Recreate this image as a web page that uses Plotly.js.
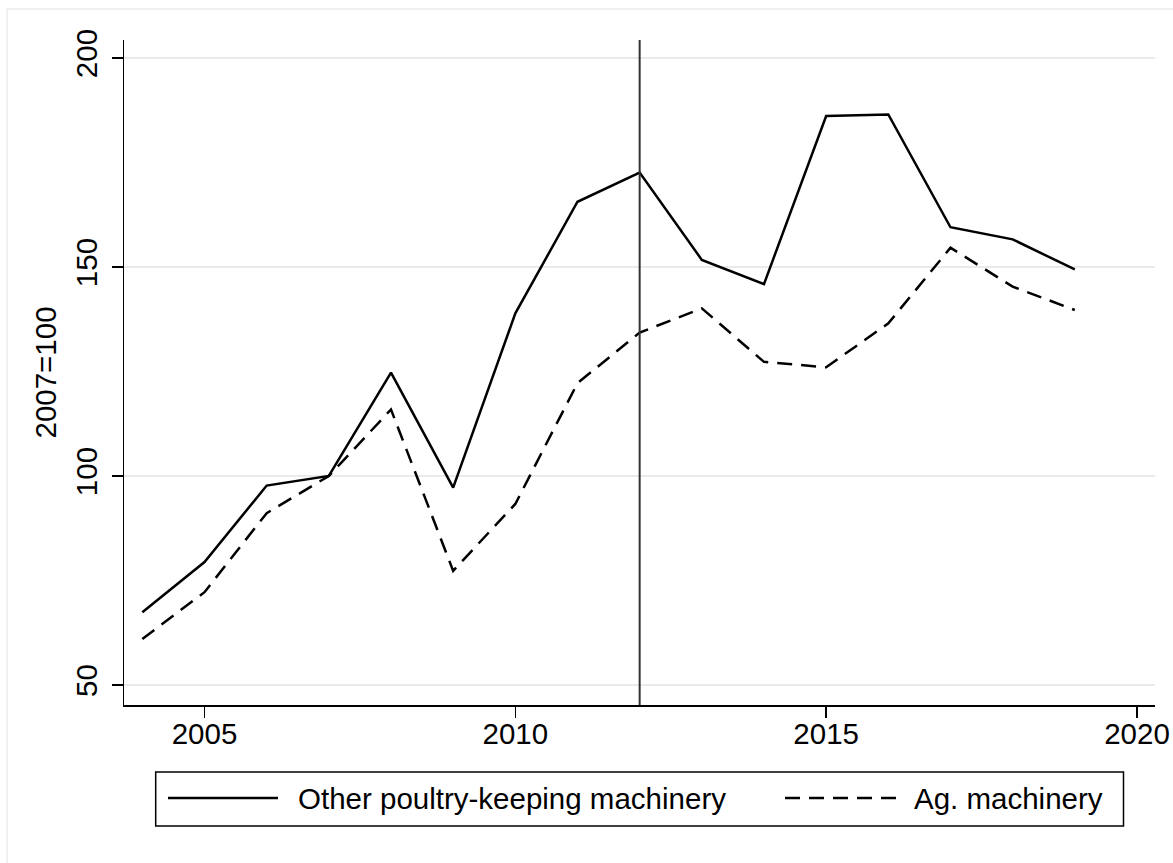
<!DOCTYPE html>
<html>
<head>
<meta charset="utf-8">
<script src="https://cdn.plot.ly/plotly-3.0.1.min.js"></script>
<style>
  html, body { margin: 0; padding: 0; background: #ffffff; }
  #chart { width: 1173px; height: 863px; }
</style>
</head>
<body>
<div id="chart"></div>
<script>
// ---- data ----
const years = [2004, 2005, 2006, 2007, 2008, 2009, 2010, 2011, 2012, 2013, 2014, 2015, 2016, 2017, 2018, 2019];
const poultryMachinery = [67.4, 79.4, 97.7, 100, 124.7, 97.2, 138.9, 165.6, 172.6, 151.7, 145.9, 186.1, 186.5, 159.5, 156.6, 149.4];
const agMachinery = [61.0, 72.2, 91.1, 100, 115.9, 77.3, 93.3, 122.2, 134.3, 140.1, 127.3, 126.0, 136.5, 154.6, 145.3, 139.7];
const seriesNames = ["Other poultry-keeping machinery", "Ag. machinery"];
const xTickVals = [2005, 2010, 2015, 2020];
const yTickVals = [50, 100, 150, 200];
const yAxisTitle = "2007=100";
const markerYear = 2012;

// ---- layout helpers ----
const W = 1173, H = 863;
const M = { l: 124, r: 18, t: 40, b: 158 };
const PW = W - M.l - M.r, PH = H - M.t - M.b;
const px = v => (v - M.l) / PW;      // pixel x -> paper x
const py = v => (H - M.b - v) / PH;  // pixel y -> paper y

const FONT = "Liberation Sans, Arial, sans-serif";
const FS = 29.5;
const dashPattern = "15px,9px";
const LW = 2.5;

const traces = [
  {
    x: years, y: poultryMachinery, name: seriesNames[0], type: "scatter", mode: "lines",
    line: { color: "#000000", width: LW }, showlegend: false, hoverinfo: "x+y"
  },
  {
    x: years, y: agMachinery, name: seriesNames[1], type: "scatter", mode: "lines",
    line: { color: "#000000", width: LW, dash: dashPattern }, showlegend: false, hoverinfo: "x+y"
  }
];

const legendY = py(798);
const shapes = [
  // faint outer graph-region frame (left/top visible)
  { type: "rect", xref: "paper", yref: "paper", x0: px(7), x1: px(1300), y0: py(1000), y1: py(9),
    line: { color: "#ececec", width: 1.5 }, fillcolor: "rgba(0,0,0,0)", layer: "below" },
  // vertical reference line
  { type: "line", xref: "x", yref: "paper", x0: markerYear, x1: markerYear, y0: 0, y1: 1,
    line: { color: "#333333", width: 2 } },
  // legend box
  { type: "rect", xref: "paper", yref: "paper", x0: px(155.7), x1: px(1123.5), y0: py(826), y1: py(772),
    line: { color: "#000000", width: 1.5 }, fillcolor: "#ffffff" },
  // legend samples
  { type: "line", xref: "paper", yref: "paper", x0: px(168), x1: px(278), y0: legendY, y1: legendY,
    line: { color: "#000000", width: LW } },
  { type: "line", xref: "paper", yref: "paper", x0: px(785), x1: px(897), y0: legendY, y1: legendY,
    line: { color: "#000000", width: LW, dash: dashPattern } }
];

const annotations = [
  { xref: "paper", yref: "paper", x: px(296), y: legendY, xanchor: "left", yanchor: "middle",
    text: seriesNames[0], showarrow: false, font: { family: FONT, size: FS, color: "#000000" } },
  { xref: "paper", yref: "paper", x: px(912), y: legendY, xanchor: "left", yanchor: "middle",
    text: seriesNames[1], showarrow: false, font: { family: FONT, size: FS, color: "#000000" } }
];

const layout = {
  width: W, height: H,
  margin: M,
  paper_bgcolor: "#ffffff",
  plot_bgcolor: "#ffffff",
  showlegend: false,
  font: { family: FONT, color: "#000000" },
  xaxis: {
    range: [2003.705, 2020.29],
    tickmode: "array", tickvals: xTickVals, ticktext: xTickVals.map(String),
    ticks: "outside", ticklen: 11, tickwidth: 1.5, tickcolor: "#000000",
    ticklabelstandoff: -9,
    showline: true, linecolor: "#000000", linewidth: 1.5,
    showgrid: false, zeroline: false,
    tickfont: { family: FONT, size: FS, color: "#000000" }
  },
  yaxis: {
    range: [45.2, 204.3],
    tickmode: "array", tickvals: yTickVals, ticktext: yTickVals.map(String),
    tickangle: -90,
    ticks: "outside", ticklen: 11, tickwidth: 1.5, tickcolor: "#000000",
    ticklabelstandoff: 3,
    showline: true, linecolor: "#000000", linewidth: 1.5,
    showgrid: true, gridcolor: "#eaeaea", gridwidth: 2,
    zeroline: false,
    tickfont: { family: FONT, size: FS, color: "#000000" },
    title: { text: yAxisTitle, font: { family: FONT, size: FS, color: "#000000" }, standoff: 4 }
  },
  shapes: shapes,
  annotations: annotations
};

Plotly.newPlot("chart", traces, layout, { displayModeBar: false, staticPlot: true });
</script>
</body>
</html>
